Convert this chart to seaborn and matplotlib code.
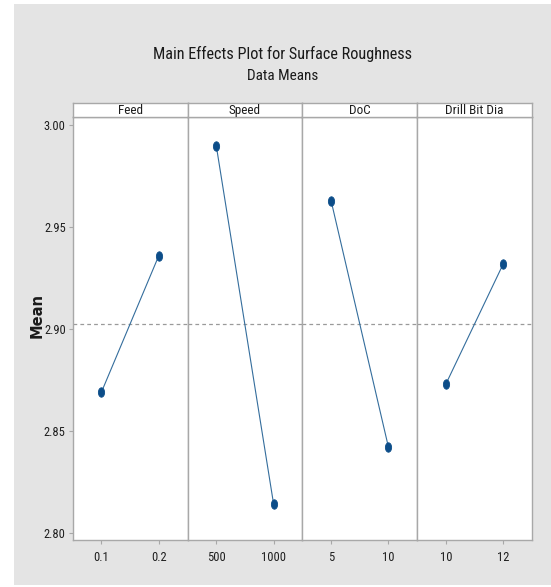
import numpy as np
import pandas as pd
import seaborn as sns
import matplotlib.pyplot as plt
from matplotlib.path import Path
from matplotlib.transforms import Affine2D
from matplotlib.patches import Rectangle

# valores (médias por nível)
factors = ["Feed", "Speed", "DoC", "Drill Bit Dia"]
levels = [["0.1", "0.2"], ["500", "1000"], ["5", "10"], ["10", "12"]]
means = [[2.869, 2.936], [2.990, 2.814], [2.963, 2.842], [2.873, 2.932]]
y_ticks = [2.80, 2.85, 2.90, 2.95, 3.00]

rows = []
for f, lv, mv in zip(factors, levels, means):
    for l, m in zip(lv, mv):
        rows.append({"factor": f, "level": l, "mean": m})
df = pd.DataFrame(rows)
grand_mean = df["mean"].mean()

sns.set_theme(style="white")
plt.rcParams["font.family"] = ["Roboto Condensed", "Lato", "DejaVu Sans"]

W, H = 551, 587
fig = plt.figure(figsize=(W / 100, H / 100), dpi=100)
fig.patch.set_facecolor("white")
bg = Rectangle((14 / W, 2 / H), 1 - 14 / W, 1 - 6 / H,
               transform=fig.transFigure, facecolor="#e4e4e4",
               edgecolor="none", zorder=-10)
fig.add_artist(bg)

left, right = 72.7 / W, 532 / W
bottom, top = 1 - 540 / H, 1 - 117 / H
head_h = 14 / H
pw = (right - left) / 4

ellipse = Path.unit_circle().transformed(Affine2D().scale(0.66, 1.0))
grey = "#a8a8a8"

for i, f in enumerate(factors):
    ax = fig.add_axes([left + i * pw, bottom, pw, top - bottom], zorder=2)
    sub = df[df["factor"] == f]
    sns.pointplot(data=sub, x="level", y="mean", order=levels[i], ax=ax,
                  color="#346d9c", errorbar=None, markersize=7, linewidth=0.8)
    for ln in ax.lines:
        ln.set_marker(ellipse)
        ln.set_markerfacecolor("#0c4d89")
        ln.set_markeredgecolor("#0c4d89")
        ln.set_markersize(6.8)
    ax.axhline(grand_mean, color="#9a9a9a", lw=0.9, dashes=(3, 2.5), zorder=0)
    ax.set_xlim(-0.5, 1.5)
    ax.set_ylim(2.7965, 3.004)
    ax.set_yticks(y_ticks)
    ax.set_facecolor("white")
    ax.set_xlabel("")
    ax.set_ylabel("")
    for sp in ax.spines.values():
        sp.set_color(grey)
        sp.set_linewidth(1.0)
    ax.tick_params(axis="x", bottom=True, length=3, width=0.8, color=grey,
                   labelsize=9, pad=5, labelcolor="#1e1e1e")
    if i == 0:
        ax.set_yticklabels([f"{t:.2f}" for t in y_ticks])
        ax.tick_params(axis="y", left=True, length=3, width=0.8, color=grey,
                       labelsize=9, pad=2, labelcolor="#1e1e1e")
    else:
        ax.tick_params(axis="y", left=False, labelleft=False)

    # faixa do cabeçalho
    hax = fig.add_axes([left + i * pw, top, pw, head_h], zorder=2)
    hax.set_facecolor("white")
    hax.set_xticks([])
    hax.set_yticks([])
    for sp in hax.spines.values():
        sp.set_color(grey)
        sp.set_linewidth(1.0)
    hax.text(0.5, 0.45, f, ha="center", va="center", fontsize=9.5, color="#1e1e1e",
             transform=hax.transAxes)

fig.text(0.5 + 14 / W / 2, 1 - 54 / H, "Main Effects Plot for Surface Roughness",
         ha="center", va="center", fontsize=11.7, color="#1a1a1a")
fig.text(0.5 + 14 / W / 2, 1 - 76 / H, "Data Means",
         ha="center", va="center", fontsize=11, color="#1a1a1a")
fig.text(36.7 / W, 1 - 315 / H, "Mean", rotation=90, ha="center", va="center",
         fontsize=10.5, fontweight="bold", family="DejaVu Sans", color="#1a1a1a")

fig.savefig("out.png", dpi=100)
